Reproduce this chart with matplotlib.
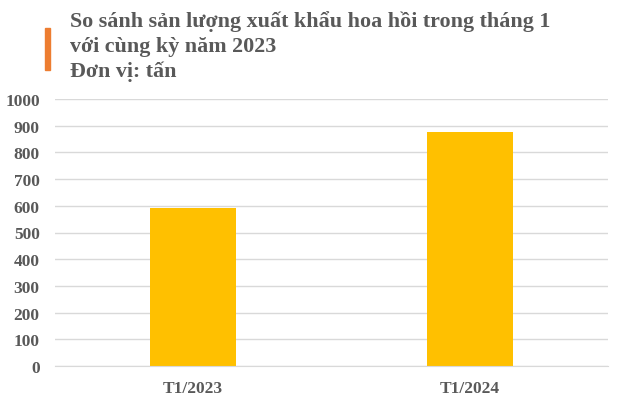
import matplotlib.pyplot as plt

plt.rcParams["font.family"] = ["Liberation Serif", "DejaVu Serif"]

categories = ["T1/2023", "T1/2024"]
values = [592, 877]
yticks = [0, 100, 200, 300, 400, 500, 600, 700, 800, 900, 1000]

title_lines = [
    "So sánh sản lượng xuất khẩu hoa hồi trong tháng 1",
    "với cùng kỳ năm 2023",
    "Đơn vị: tấn",
]

text_color = "#595959"

fig = plt.figure(figsize=(6.21, 4.02), dpi=100)
ax = fig.add_axes([55 / 621, 1 - 367 / 402, 553 / 621, 267 / 402])

ax.bar(range(len(categories)), values, width=0.31, color="#FFC000", zorder=2)
ax.set_xlim(-0.5, 1.5)
ax.set_ylim(0, 1000)
ax.set_yticks(yticks)
ax.set_xticks(range(len(categories)))
ax.set_xticklabels(categories)
ax.yaxis.grid(True, color="#D9D9D9", linewidth=1, zorder=0)
for s in ["top", "right", "left"]:
    ax.spines[s].set_visible(False)
ax.spines["bottom"].set_color("#D9D9D9")
ax.tick_params(length=0, labelsize=12.5, labelcolor=text_color)
ax.tick_params(axis="y", pad=11)
ax.tick_params(axis="x", pad=10)
for lbl in ax.get_xticklabels() + ax.get_yticklabels():
    lbl.set_fontweight("bold")

# title block with orange marker
fig.patches.append(plt.Rectangle((45 / 621, 1 - 71 / 402), 5 / 621, 42 / 402,
                                 transform=fig.transFigure, color="#ED7D31"))
for i, line in enumerate(title_lines):
    fig.text(70 / 621, 1 - (22 + i * 25) / 402, line, fontsize=15.8,
             fontweight="bold", color=text_color, va="center", ha="left")

fig.savefig("out.png", dpi=100)
